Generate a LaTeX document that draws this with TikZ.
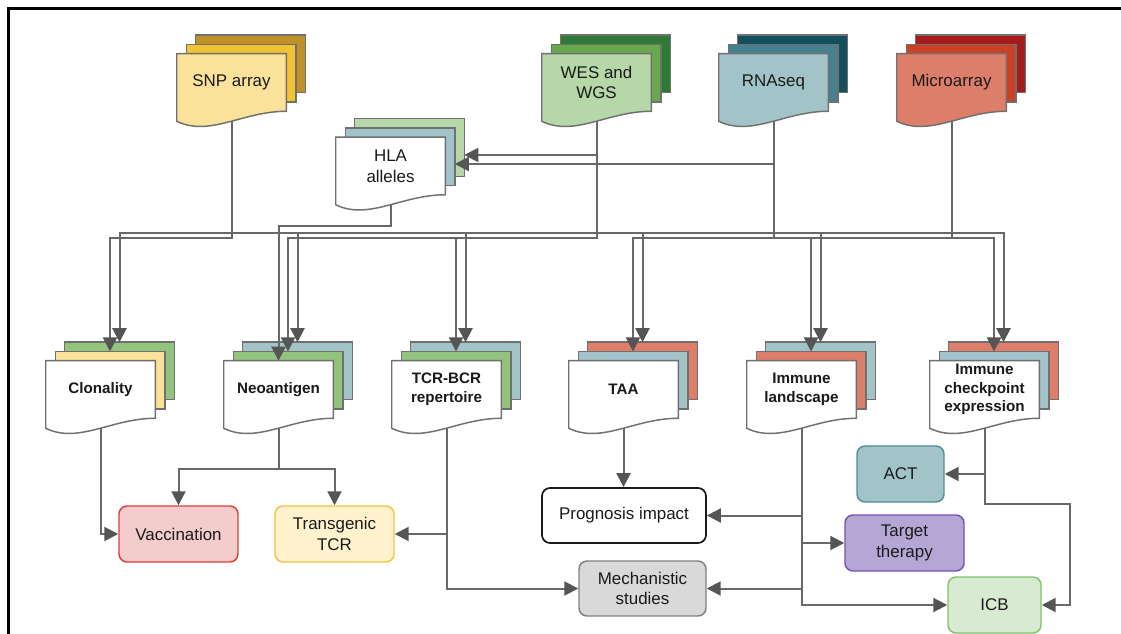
\documentclass[tikz,border=0pt]{standalone}
\usepackage{fontspec}
\setmainfont{Liberation Sans}
\usetikzlibrary{arrows.meta,calc}
\pgfdeclarelayer{bgl}
\pgfdeclarelayer{docs}
\pgfsetlayers{bgl,docs,main}

\definecolor{yel1}{HTML}{FBE29A}
\definecolor{yel2}{HTML}{F1C232}
\definecolor{yel3}{HTML}{C0902A}
\definecolor{grn1}{HTML}{B6D7A8}
\definecolor{grn2}{HTML}{6AA84F}
\definecolor{grn3}{HTML}{2F7A37}
\definecolor{grnT}{HTML}{93C47D}
\definecolor{blu1}{HTML}{A2C4C9}
\definecolor{blu2}{HTML}{45818E}
\definecolor{blu3}{HTML}{134F5C}
\definecolor{red1}{HTML}{DD7E6B}
\definecolor{red2}{HTML}{CC4125}
\definecolor{red3}{HTML}{A61C1C}
\definecolor{linegray}{HTML}{686868}
\definecolor{arrowgray}{HTML}{555555}
\definecolor{docgray}{HTML}{707070}
\definecolor{txt}{HTML}{1A1A1A}
\definecolor{vacfill}{HTML}{F4CCCC}
\definecolor{vacdraw}{HTML}{D9413A}
\definecolor{tgfill}{HTML}{FFF2CC}
\definecolor{tgdraw}{HTML}{F5C242}
\definecolor{mechfill}{HTML}{D9D9D9}
\definecolor{mechdraw}{HTML}{808080}
\definecolor{actfill}{HTML}{A2C4C9}
\definecolor{actdraw}{HTML}{4E8F9A}
\definecolor{ttfill}{HTML}{B4A7D6}
\definecolor{ttdraw}{HTML}{7354B4}
\definecolor{icbfill}{HTML}{D9EAD3}
\definecolor{icbdraw}{HTML}{82C36A}

\newcommand\docstack[4]{%
 \begin{pgfonlayer}{docs}
  \draw[docline,fill=#4] ([shift={(19,-18.5)}]#1.south west) rectangle ([shift={(19,-18.5)}]#1.north east);
  \draw[docline,fill=#3] ([shift={(9.5,-9.25)}]#1.south west) rectangle ([shift={(9.5,-9.25)}]#1.north east);
  \draw[docline,fill=#2] (#1.north west) -- (#1.north east) -- (#1.south east)
     .. controls ([shift={(-43.6,0)}]#1.south east) and ([shift={(32.7,26)}]#1.south west) .. ([shift={(0,10)}]#1.south west) -- cycle;
 \end{pgfonlayer}
 \coordinate (#1-m) at ([shift={(9.5,-9.25)}]#1.north);
 \coordinate (#1-b) at ([shift={(19,-18.5)}]#1.north);
 \coordinate (#1-mr) at ([shift={(9.5,0)}]#1.east);
 \coordinate (#1-br) at ([shift={(19,0)}]#1.east);
 \coordinate (#1-o) at ([shift={(0,10)}]#1.south);
}

\tikzset{
 docline/.style={draw=docgray, line width=1.1pt},
 docnode/.style={minimum width=81.75pt, minimum height=42.75pt, inner sep=0pt, align=center, text=txt,
   font=\fontsize{12.7pt}{15.5pt}\selectfont},
 tnode/.style={docnode, font=\fontsize{11.4pt}{13.9pt}\selectfont\bfseries},
 box/.style={rounded corners=6pt, line width=1.1pt, align=center, inner sep=0pt, text=txt,
   font=\fontsize{12.7pt}{15.5pt}\selectfont},
 conn/.style={draw=linegray, line width=1.5pt, -{Triangle[length=10.5pt,width=10.5pt,color=arrowgray]}},
}

\begin{document}
\begin{tikzpicture}[x=0.75pt,y=-0.75pt]
\useasboundingbox (0,0) rectangle (1121,634);
\begin{pgfonlayer}{bgl}
\fill[white] (0,0) rectangle (1121,634);
\end{pgfonlayer}
\draw[line width=2.5pt] (8.3,634) -- (8.3,8.3) -- (1121,8.3);

% source documents
\node[docnode] (snp) at (231.5,82.5) {SNP array};
\docstack{snp}{yel1}{yel2}{yel3}
\node[docnode] (wes) at (596.5,82.5) {WES and\\WGS};
\docstack{wes}{grn1}{grn2}{grn3}
\node[docnode] (rna) at (773.5,82.5) {RNAseq};
\docstack{rna}{blu1}{blu2}{blu3}
\node[docnode] (mic) at (951.5,82.5) {Microarray};
\docstack{mic}{red1}{red2}{red3}

\node[docnode] (hla) at (390.5,166) {HLA\\alleles};
\docstack{hla}{white}{blu1}{grn1}

% analysis documents
\node[tnode] (clon) at (100.5,389.5) {Clonality};
\docstack{clon}{white}{yel1}{grnT}
\node[tnode] (neo) at (278.5,389.5) {Neoantigen};
\docstack{neo}{white}{grnT}{blu1}
\node[tnode] (tcr) at (446.5,389.5) {TCR-BCR\\repertoire};
\docstack{tcr}{white}{grnT}{blu1}
\node[tnode] (taa) at (623.5,389.5) {TAA};
\docstack{taa}{white}{blu1}{red1}
\node[tnode] (imm) at (801.5,389.5) {Immune\\landscape};
\docstack{imm}{white}{red1}{blu1}
\node[tnode] (chk) at (984.5,389.5) {Immune\\checkpoint\\expression};
\docstack{chk}{white}{blu1}{red1}

% outcome boxes
\node[box, fill=vacfill, draw=vacdraw, minimum width=89.25pt, minimum height=42pt] (vac) at (178.5,534) {Vaccination};
\node[box, fill=tgfill, draw=tgdraw, minimum width=89.25pt, minimum height=42pt] (tg) at (334.5,534) {Transgenic\\TCR};
\node[box, fill=white, draw=txt, line width=1.3pt, minimum width=123pt, minimum height=41.25pt] (prog) at (624,515.5) {Prognosis impact};
\node[box, fill=mechfill, draw=mechdraw, minimum width=95.25pt, minimum height=41.25pt] (mech) at (642.5,588.5) {Mechanistic\\studies};
\node[box, fill=actfill, draw=actdraw, minimum width=65.25pt, minimum height=42pt] (act) at (900.5,474) {ACT};
\node[box, fill=ttfill, draw=ttdraw, minimum width=89.25pt, minimum height=42pt] (tt) at (904.5,543) {Target\\therapy};
\node[box, fill=icbfill, draw=icbdraw, minimum width=69.75pt, minimum height=42pt] (icb) at (994.5,605) {ICB};

% bus levels
\coordinate (busA) at (0,233);
\coordinate (busB) at (0,238);
\coordinate (busH) at (0,226);
\coordinate (busN) at (0,469);
\coordinate (hlaA) at (0,155);
\coordinate (hlaB) at (0,164);
\coordinate (chkturn) at (1070,504);

% SNP
\draw[conn] (snp-o) |- (clon-m |- busB) -- (clon-m);
% WES
\draw[conn] (wes-o) |- (clon-b |- busA) -- (clon-b);
\draw[conn] (wes-o) |- (neo-m |- busB) -- (neo-m);
\draw[conn] (wes-o) |- (tcr-m |- busB) -- (tcr-m);
\draw[conn] (wes-o) |- (hla-br |- hlaA);
% RNAseq
\draw[conn] (rna-o) |- (hla-mr |- hlaB);
\draw[conn] (rna-o) |- (neo-b |- busA) -- (neo-b);
\draw[conn] (rna-o) |- (tcr-b |- busA) -- (tcr-b);
\draw[conn] (rna-o) |- (taa-m |- busB) -- (taa-m);
\draw[conn] (rna-o) |- (imm-b |- busA) -- (imm-b);
\draw[conn] (rna-o) |- (chk-m |- busB) -- (chk-m);
% Microarray
\draw[conn] (mic-o) |- (taa-b |- busA) -- (taa-b);
\draw[conn] (mic-o) |- (imm-m |- busB) -- (imm-m);
\draw[conn] (mic-o) |- (chk-b |- busA) -- (chk-b);
% HLA
\draw[conn] (hla-o) |- (neo.north |- busH) -- (neo.north);

% lower level
\draw[conn] (clon-o) |- (vac.west);
\draw[conn] (neo-o) |- (vac.north |- busN) -- (vac.north);
\draw[conn] (neo-o) |- (tg.north |- busN) -- (tg.north);
\draw[conn] (tcr-o) |- (tg.east);
\draw[conn] (tcr-o) |- (mech.west);
\draw[conn] (taa-o) -- (taa-o |- prog.north);
\draw[conn] (imm-o) |- (prog.east);
\draw[conn] (imm-o) |- (tt.west);
\draw[conn] (imm-o) |- (mech.east);
\draw[conn] (imm-o) |- (icb.west);
\draw[conn] (chk-o) |- (act.east);
\draw[conn] (chk-o) |- (chkturn) |- (icb.east);
\end{tikzpicture}
\end{document}
